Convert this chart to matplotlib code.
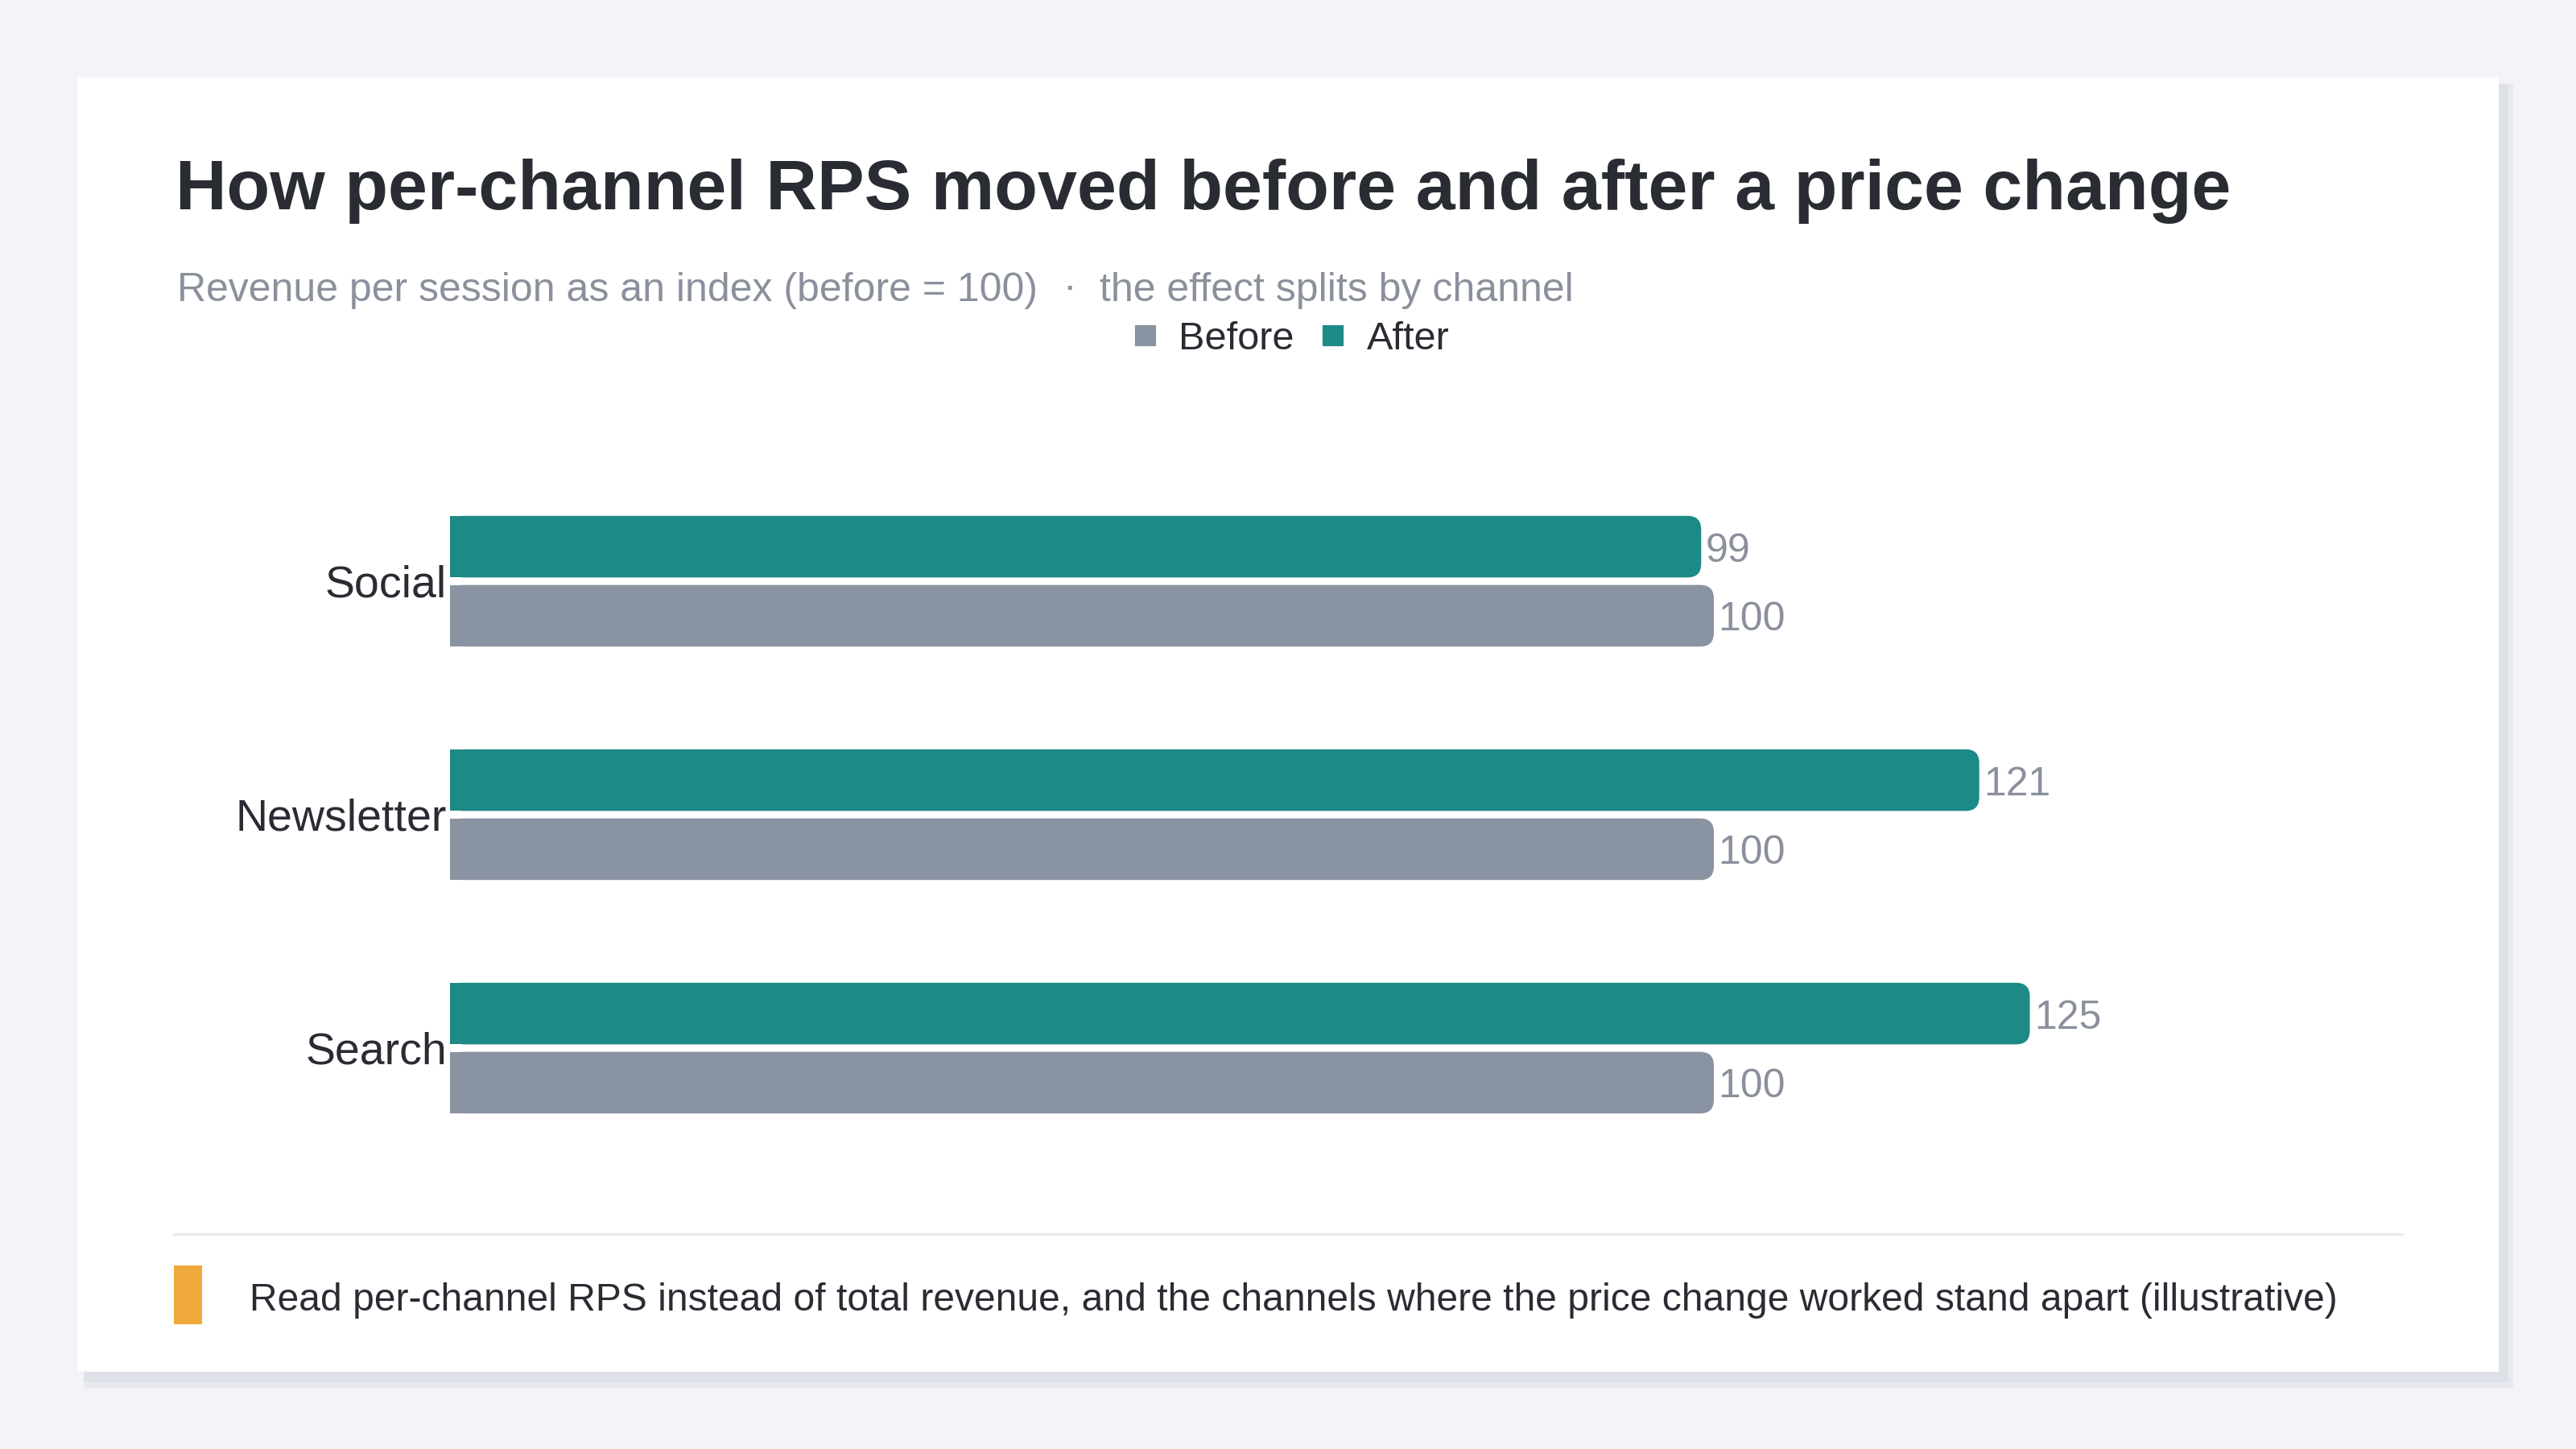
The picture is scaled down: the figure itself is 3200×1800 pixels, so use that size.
import matplotlib.pyplot as plt
from matplotlib.patches import FancyBboxPatch, Rectangle
from matplotlib.lines import Line2D

plt.rcParams['font.family'] = ['Liberation Sans', 'DejaVu Sans']

channels = ['Search', 'Newsletter', 'Social']
before = [100, 100, 100]
after = [125, 121, 99]
series_names = ['Before', 'After']

title = 'How per-channel RPS moved before and after a price change'
subtitle = 'Revenue per session as an index (before = 100)'
subtitle2 = 'the effect splits by channel'
footer = ('Read per-channel RPS instead of total revenue, and the channels where '
          'the price change worked stand apart (illustrative)')

C_BG = '#f3f4f8'
C_CARD = '#ffffff'
C_SHADOW = '#dfe1e8'
C_TEAL = '#1e8a87'
C_GRAY = '#8a93a1'
C_TEXT = '#2a2c33'
C_SUB = '#8a909c'
C_ACCENT = '#f0a93b'

W, H = 3200, 1800
fig = plt.figure(figsize=(16, 9), dpi=200, facecolor=C_BG)


def fx(x):
    return x / W


def fy(y):
    return 1 - y / H


# card with soft shadow
fig.patches.append(Rectangle((fx(104), fy(1725)), fx(3122 - 104), (1725 - 104) / H,
                             transform=fig.transFigure, facecolor='#e9eaf0', edgecolor='none', zorder=-3))
fig.patches.append(Rectangle((fx(104), fy(1717)), fx(3116 - 104), (1717 - 104) / H,
                             transform=fig.transFigure, facecolor=C_SHADOW, edgecolor='none', zorder=-2))
fig.patches.append(Rectangle((fx(96), fy(1704)), fx(3104 - 96), (1704 - 96) / H,
                             transform=fig.transFigure, facecolor=C_CARD, edgecolor='none', zorder=-1))

fig.text(fx(218), fy(238), title, fontsize=31.7, fontweight='bold', color=C_TEXT,
         ha='left', va='center')
fig.text(fx(220), fy(361), subtitle, fontsize=18, color=C_SUB, ha='left', va='center')
fig.text(fx(1328), fy(358), '·', fontsize=18, color=C_SUB, ha='center', va='center')
fig.text(fx(1366), fy(361), subtitle2, fontsize=18, color=C_SUB, ha='left', va='center')

# axes placement: 100 units = 1570 px, one category = 290 px
x_max = 150
ax_left, ax_w = 559, 15.7 * x_max
ax_top, ax_h = 548, 290 * 3.2
ax = fig.add_axes([fx(ax_left), fy(ax_top + ax_h), ax_w / W, ax_h / H], zorder=2)
ax.set_facecolor('none')
ax.set_xlim(0, x_max)
ax.set_ylim(-0.6, 2.6)
for s in ax.spines.values():
    s.set_visible(False)
ax.set_xticks([])
ax.set_yticks(range(len(channels)))
ax.set_yticklabels(channels, fontsize=20, color=C_TEXT)
ax.tick_params(axis='y', length=0, pad=1.5)

bar_h = 0.264
off = 0.148
ys = list(range(len(channels)))
b1 = ax.barh([y - off for y in ys], before, height=bar_h, color=C_GRAY)
b2 = ax.barh([y + off for y in ys], after, height=bar_h, color=C_TEAL)

# rounded right ends
fig.canvas.draw()
px_x = ax.transData.transform((1, 0))[0] - ax.transData.transform((0, 0))[0]
px_y = ax.transData.transform((0, 1))[1] - ax.transData.transform((0, 0))[1]
aspect = px_x / px_y
r = 17 / px_x
for bars in (b1, b2):
    for rect in bars:
        x0, y0 = rect.get_x(), rect.get_y()
        w, h = rect.get_width(), rect.get_height()
        col = rect.get_facecolor()
        rect.set_visible(False)
        ax.add_patch(FancyBboxPatch((x0, y0), w, h,
                                    boxstyle=f'round,pad=0,rounding_size={r}',
                                    mutation_aspect=aspect, facecolor=col, edgecolor='none'))
        ax.add_patch(Rectangle((x0, y0), w / 2, h, facecolor=col, edgecolor='none'))
        ax.annotate(f'{w:g}', (x0 + w, y0 + h / 2), xytext=(2, -2), textcoords='offset points',
                    ha='left', va='center', fontsize=18, color=C_SUB)

handles = [Line2D([], [], marker='s', linestyle='none', markersize=8, color=c,
                  markeredgewidth=1.5, markeredgecolor=c)
           for c in (C_GRAY, C_TEAL)]
for h_ in handles:
    h_.set_markeredgecolor(h_.get_color())
leg = fig.legend(handles, series_names, loc='center', bbox_to_anchor=(fx(1602), fy(422)),
                 ncol=2, frameon=False, fontsize=17.5, handlelength=0.8, handletextpad=0.45,
                 columnspacing=0.6, labelcolor=C_TEXT)

# footer
fig.lines.append(Line2D([fx(216), fx(2984)], [fy(1533), fy(1533)], transform=fig.transFigure,
                        color='#e8eaef', linewidth=1.2))
fig.patches.append(Rectangle((fx(216), fy(1645)), fx(251 - 216), (1645 - 1572) / H,
                             transform=fig.transFigure, facecolor=C_ACCENT, edgecolor='none'))
fig.text(fx(310), fy(1616), footer, fontsize=17.27, color=C_TEXT, ha='left', va='center')

fig.savefig('out.png', dpi=200, facecolor=C_BG)
